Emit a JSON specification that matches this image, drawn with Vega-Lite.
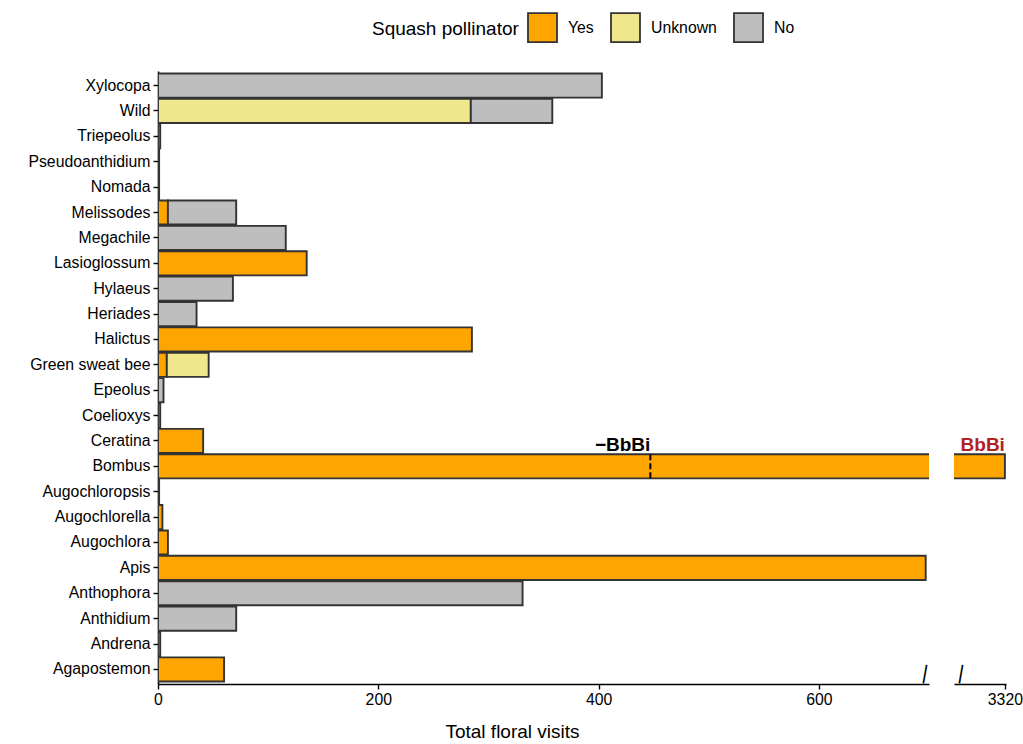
{
  "$schema": "https://vega.github.io/schema/vega-lite/v6.json",
  "background": "white",
  "padding": {"left": 27, "top": 12, "right": 4, "bottom": 4},
  "config": {
    "font": "Liberation Sans",
    "view": {"stroke": null},
    "concat": {"spacing": 24},
    "axis": {
      "grid": false,
      "domainColor": "black",
      "domainWidth": 1.6,
      "tickColor": "black",
      "tickWidth": 1.4,
      "tickSize": 5,
      "labelColor": "black",
      "labelFontSize": 15.8,
      "labelPadding": 3,
      "labelFlush": false,
      "titleColor": "black",
      "titleFontWeight": "normal",
      "titleFontSize": 19
    },
    "legend": {
      "orient": "none",
      "legendX": 214,
      "legendY": -59,
      "direction": "horizontal",
      "titleOrient": "left",
      "titleBaseline": "middle",
      "titleAnchor": "middle",
      "titleFontSize": 19,
      "titleFontWeight": "normal",
      "titleColor": "black",
      "titlePadding": 8,
      "labelFontSize": 15.8,
      "labelColor": "black",
      "labelOffset": 10,
      "columnPadding": 13,
      "symbolType": "square",
      "symbolSize": 841,
      "symbolStrokeColor": "#333333",
      "symbolStrokeWidth": 1.8,
      "symbolOpacity": 1
    }
  },
  "datasets": {
    "visits": [
      {"genus": "Xylocopa", "pollinator": "No", "visits": 403, "ord": 3},
      {"genus": "Wild", "pollinator": "Unknown", "visits": 284, "ord": 2},
      {"genus": "Wild", "pollinator": "No", "visits": 74, "ord": 3},
      {"genus": "Triepeolus", "pollinator": "No", "visits": 2, "ord": 3},
      {"genus": "Pseudoanthidium", "pollinator": "No", "visits": 1, "ord": 3},
      {"genus": "Nomada", "pollinator": "No", "visits": 1, "ord": 3},
      {"genus": "Melissodes", "pollinator": "Yes", "visits": 9, "ord": 1},
      {"genus": "Melissodes", "pollinator": "No", "visits": 62, "ord": 3},
      {"genus": "Megachile", "pollinator": "No", "visits": 116, "ord": 3},
      {"genus": "Lasioglossum", "pollinator": "Yes", "visits": 135, "ord": 1},
      {"genus": "Hylaeus", "pollinator": "No", "visits": 68, "ord": 3},
      {"genus": "Heriades", "pollinator": "No", "visits": 35, "ord": 3},
      {"genus": "Halictus", "pollinator": "Yes", "visits": 285, "ord": 1},
      {"genus": "Green sweat bee", "pollinator": "Yes", "visits": 8, "ord": 1},
      {"genus": "Green sweat bee", "pollinator": "Unknown", "visits": 38, "ord": 2},
      {"genus": "Epeolus", "pollinator": "No", "visits": 5, "ord": 3},
      {"genus": "Coelioxys", "pollinator": "No", "visits": 2, "ord": 3},
      {"genus": "Ceratina", "pollinator": "Yes", "visits": 41, "ord": 1},
      {"genus": "Bombus", "pollinator": "Yes", "visits": 3320, "ord": 1},
      {"genus": "Augochloropsis", "pollinator": "Yes", "visits": 1, "ord": 1},
      {"genus": "Augochlorella", "pollinator": "Yes", "visits": 4, "ord": 1},
      {"genus": "Augochlora", "pollinator": "Yes", "visits": 9, "ord": 1},
      {"genus": "Apis", "pollinator": "Yes", "visits": 697, "ord": 1},
      {"genus": "Anthophora", "pollinator": "No", "visits": 331, "ord": 3},
      {"genus": "Anthidium", "pollinator": "No", "visits": 71, "ord": 3},
      {"genus": "Andrena", "pollinator": "No", "visits": 2, "ord": 3},
      {"genus": "Agapostemon", "pollinator": "Yes", "visits": 60, "ord": 1}
    ],
    "notes": [
      {"genus": "Bombus", "x": 447, "label": "−BbBi"}
    ],
    "notesRight": [
      {"genus": "Bombus", "x": 3320, "label": "BbBi"}
    ],
    "breakLeft": [
      {"genus": "Agapostemon", "x": 697, "label": "|"}
    ],
    "breakRight": [
      {"genus": "Agapostemon", "x": 3281, "label": "|"}
    ]
  },
  "hconcat": [
    {
      "width": 771,
      "height": 613,
      "layer": [
        {
          "data": {"name": "visits"},
          "mark": {"type": "bar", "clip": true, "stroke": "#333333", "strokeWidth": 1.9},
          "encoding": {
            "y": {
              "field": "genus",
              "type": "nominal",
              "sort": ["Xylocopa", "Wild", "Triepeolus", "Pseudoanthidium", "Nomada", "Melissodes", "Megachile", "Lasioglossum", "Hylaeus", "Heriades", "Halictus", "Green sweat bee", "Epeolus", "Coelioxys", "Ceratina", "Bombus", "Augochloropsis", "Augochlorella", "Augochlora", "Apis", "Anthophora", "Anthidium", "Andrena", "Agapostemon"],
              "scale": {"paddingInner": 0.05, "paddingOuter": 0.1},
              "axis": {"title": null}
            },
            "x": {
              "field": "visits",
              "type": "quantitative",
              "stack": "zero",
              "scale": {"domain": [0, 700], "nice": false},
              "axis": {"values": [0, 200, 400, 600], "title": "Total floral visits", "titleX": 354, "titlePadding": 16}
            },
            "color": {
              "field": "pollinator",
              "type": "nominal",
              "scale": {"domain": ["Yes", "Unknown", "No"], "range": ["#FFA500", "#F0E68C", "#BEBEBE"]},
              "legend": {"title": "Squash pollinator"}
            },
            "order": {"field": "ord", "type": "quantitative"}
          }
        },
        {
          "data": {"name": "notes"},
          "mark": {"type": "rule", "color": "black", "strokeWidth": 2, "strokeDash": [6, 3]},
          "encoding": {
            "x": {"field": "x", "type": "quantitative"},
            "y": {"field": "genus", "type": "nominal", "bandPosition": 0, "sort": ["Xylocopa", "Wild", "Triepeolus", "Pseudoanthidium", "Nomada", "Melissodes", "Megachile", "Lasioglossum", "Hylaeus", "Heriades", "Halictus", "Green sweat bee", "Epeolus", "Coelioxys", "Ceratina", "Bombus", "Augochloropsis", "Augochlorella", "Augochlora", "Apis", "Anthophora", "Anthidium", "Andrena", "Agapostemon"]},
            "y2": {"field": "genus", "bandPosition": 1}
          }
        },
        {
          "data": {"name": "notes"},
          "mark": {"type": "text", "align": "right", "baseline": "alphabetic", "dy": -3, "fontSize": 19, "fontWeight": "bold", "color": "black"},
          "encoding": {
            "x": {"field": "x", "type": "quantitative"},
            "y": {"field": "genus", "type": "nominal", "bandPosition": 0, "sort": ["Xylocopa", "Wild", "Triepeolus", "Pseudoanthidium", "Nomada", "Melissodes", "Megachile", "Lasioglossum", "Hylaeus", "Heriades", "Halictus", "Green sweat bee", "Epeolus", "Coelioxys", "Ceratina", "Bombus", "Augochloropsis", "Augochlorella", "Augochlora", "Apis", "Anthophora", "Anthidium", "Andrena", "Agapostemon"]},
            "text": {"field": "label"}
          }
        },
        {
          "data": {"name": "breakLeft"},
          "mark": {"type": "text", "align": "center", "baseline": "alphabetic", "dy": 10, "fontSize": 20, "angle": 10, "color": "black"},
          "encoding": {
            "x": {"field": "x", "type": "quantitative"},
            "y": {"field": "genus", "type": "nominal", "sort": ["Xylocopa", "Wild", "Triepeolus", "Pseudoanthidium", "Nomada", "Melissodes", "Megachile", "Lasioglossum", "Hylaeus", "Heriades", "Halictus", "Green sweat bee", "Epeolus", "Coelioxys", "Ceratina", "Bombus", "Augochloropsis", "Augochlorella", "Augochlora", "Apis", "Anthophora", "Anthidium", "Andrena", "Agapostemon"]},
            "text": {"field": "label"}
          }
        }
      ]
    },
    {
      "width": 52,
      "height": 613,
      "layer": [
        {
          "data": {"name": "visits"},
          "mark": {"type": "bar", "clip": true, "stroke": "#333333", "strokeWidth": 1.9},
          "encoding": {
            "y": {"field": "genus", "type": "nominal", "axis": null, "sort": ["Xylocopa", "Wild", "Triepeolus", "Pseudoanthidium", "Nomada", "Melissodes", "Megachile", "Lasioglossum", "Hylaeus", "Heriades", "Halictus", "Green sweat bee", "Epeolus", "Coelioxys", "Ceratina", "Bombus", "Augochloropsis", "Augochlorella", "Augochlora", "Apis", "Anthophora", "Anthidium", "Andrena", "Agapostemon"]},
            "x": {
              "field": "visits",
              "type": "quantitative",
              "stack": "zero",
              "scale": {"domain": [3274, 3321], "nice": false, "zero": false},
              "axis": {"values": [3320], "format": "d", "title": null}
            },
            "color": {"field": "pollinator", "type": "nominal", "legend": null},
            "order": {"field": "ord", "type": "quantitative"}
          }
        },
        {
          "data": {"name": "notesRight"},
          "mark": {"type": "text", "align": "right", "baseline": "alphabetic", "dy": -3, "fontSize": 19, "fontWeight": "bold", "color": "#B22222"},
          "encoding": {
            "x": {"field": "x", "type": "quantitative"},
            "y": {"field": "genus", "type": "nominal", "bandPosition": 0, "sort": ["Xylocopa", "Wild", "Triepeolus", "Pseudoanthidium", "Nomada", "Melissodes", "Megachile", "Lasioglossum", "Hylaeus", "Heriades", "Halictus", "Green sweat bee", "Epeolus", "Coelioxys", "Ceratina", "Bombus", "Augochloropsis", "Augochlorella", "Augochlora", "Apis", "Anthophora", "Anthidium", "Andrena", "Agapostemon"]},
            "text": {"field": "label"}
          }
        },
        {
          "data": {"name": "breakRight"},
          "mark": {"type": "text", "align": "center", "baseline": "alphabetic", "dy": 10, "fontSize": 20, "angle": 10, "color": "black"},
          "encoding": {
            "x": {"field": "x", "type": "quantitative"},
            "y": {"field": "genus", "type": "nominal", "sort": ["Xylocopa", "Wild", "Triepeolus", "Pseudoanthidium", "Nomada", "Melissodes", "Megachile", "Lasioglossum", "Hylaeus", "Heriades", "Halictus", "Green sweat bee", "Epeolus", "Coelioxys", "Ceratina", "Bombus", "Augochloropsis", "Augochlorella", "Augochlora", "Apis", "Anthophora", "Anthidium", "Andrena", "Agapostemon"]},
            "text": {"field": "label"}
          }
        }
      ]
    }
  ],
  "resolve": {"scale": {"x": "independent", "y": "shared", "color": "shared"}}
}
